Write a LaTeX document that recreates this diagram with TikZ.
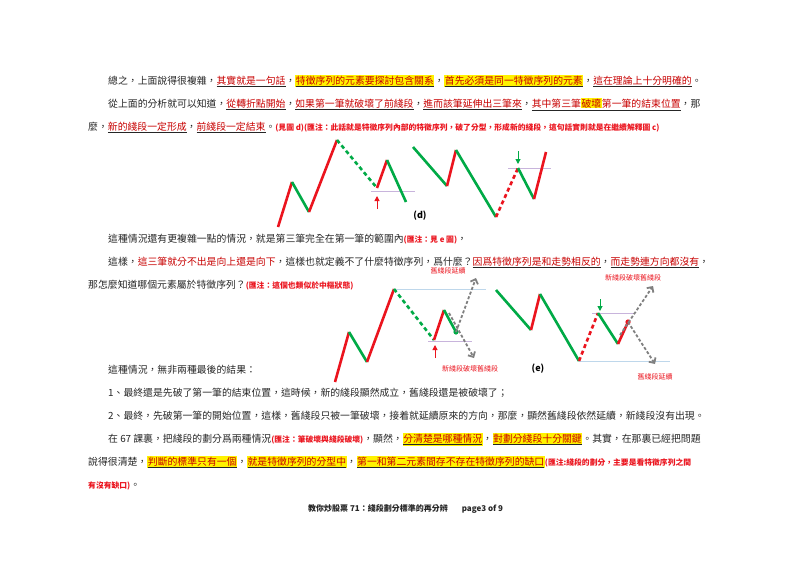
\documentclass[tikz,border=0pt]{standalone}
\usepackage{fontspec}
\setmainfont{Noto Sans CJK TC}
\usetikzlibrary{arrows.meta}
\definecolor{ug}{RGB}{0,170,70}
\definecolor{ur}{RGB}{235,20,30}
\definecolor{ulr}{RGB}{200,0,0}
\definecolor{pl}{RGB}{200,180,220}
\definecolor{bl}{RGB}{190,215,235}
\newcommand{\myul}[1]{\underline{\textcolor{ulr}{#1}}}
\newcommand{\myhl}[1]{{\fboxsep=0.6pt\colorbox{yellow}{\underline{\textcolor{ulr}{#1}}}}}
\newcommand{\mynote}[1]{{\fontsize{7.8}{8}\selectfont\bfseries\textcolor{ur}{#1}}}
\begin{document}
\begin{tikzpicture}[x=1pt,y=-1pt,
 txt/.style={anchor=base west,inner sep=0,font=\fontsize{9.85}{10}\selectfont,text=black!85},
 lab/.style={inner sep=0,font=\fontsize{7}{8}\selectfont,text=ur},
 up/.style={ur,line width=2.6pt},
 dn/.style={ug,line width=2.6pt},
 upd/.style={up,dash pattern=on 4pt off 3pt},
 dnd/.style={dn,dash pattern=on 4pt off 3pt},
 gar/.style={gray,line width=1.8pt,dash pattern=on 3pt off 2pt,-{Straight Barb[length=4pt]}},
 hl1/.style={pl,line width=1pt},
 hl2/.style={bl,line width=1pt}]
\useasboundingbox (0,0) rectangle (800,566);
\fill[white] (0,0) rectangle (800,566);
% text
\node[txt] (t1) at (108,84) {總之，上面說得很複雜，\myul{其實就是一句話}，\myhl{特徵序列的元素要探討包含關系}，\myhl{首先必須是同一特徵序列的元素}，\myul{這在理論上十分明確的}。};
\node[txt] (t2) at (108,107) {從上面的分析就可以知道，\myul{從轉折點開始}，\myul{如果第一筆就破壞了前綫段}，\myul{進而該筆延伸出三筆來}，\myul{其中第三筆{\fboxsep=0.6pt\colorbox{yellow}{破壞}}第一筆的結束位置}，那};
\node[txt] (t3) at (88,130) {麼，\myul{新的綫段一定形成}，\myul{前綫段一定結束}。\mynote{(見圖 d)(匯注：此話就是特徵序列內部的特徵序列，破了分型，形成新的綫段，這句話實則就是在繼續解釋圖 c)}};
\node[txt] (t4) at (108,242) {這種情況還有更複雜一點的情況，就是第三筆完全在第一筆的範圍內\mynote{(匯注：見 e 圖)}，};
\node[txt] (t5) at (108,265) {這樣，\textcolor{ulr}{這三筆就分不出是向上還是向下}，這樣也就定義不了什麼特徵序列，爲什麼？\myul{因爲特徵序列是和走勢相反的}，\myul{而走勢連方向都沒有}，};
\node[txt] (t6) at (88,288) {那怎麼知道哪個元素屬於特徵序列？\mynote{(匯注：這個也類似於中樞狀態)}};
\node[txt] (t7) at (108,373) {這種情況，無非兩種最後的結果：};
\node[txt] (t8) at (108,396) {1、最終還是先破了第一筆的結束位置，這時候，新的綫段顯然成立，舊綫段還是被破壞了；};
\node[txt] (t9) at (108,419) {2、最終，先破第一筆的開始位置，這樣，舊綫段只被一筆破壞，接着就延續原來的方向，那麼，顯然舊綫段依然延續，新綫段沒有出現。};
\node[txt] (t10) at (108,442) {在 67 課裏，把綫段的劃分爲兩種情況\mynote{(匯注：筆破壞與綫段破壞)}，顯然，\myhl{分清楚是哪種情況}，\myhl{對劃分綫段十分關鍵}。其實，在那裏已經把問題};
\node[txt] (t11) at (88,465) {說得很清楚，\myhl{判斷的標準只有一個}，\myhl{就是特徵序列的分型中}，\myhl{第一和第二元素間存不存在特徵序列的缺口}\mynote{(匯注:綫段的劃分，主要是看特徵序列之間}};
\node[txt] (t12) at (88,488) {\mynote{有沒有缺口)}。};
\node[txt,font=\fontsize{8}{9}\selectfont\bfseries] (ft) at (308,511) {教你炒股票 71：綫段劃分標準的再分辨\hspace{14pt}page3 of 9};
% chart d left
\coordinate (a1) at (278,227); \coordinate (a2) at (292,182); \coordinate (a3) at (309,212);
\coordinate (a4) at (337,140); \coordinate (a5) at (377,188); \coordinate (a6) at (387,160); \coordinate (a7) at (406,202);
\draw[hl1] (371,191) -- (415,191);
\draw[up] (a1)--(a2); \draw[dn] (a2)--(a3); \draw[up] (a3)--(a4); \draw[dnd] (a4)--(a5); \draw[up] (a5)--(a6); \draw[dn] (a6)--(a7);
\draw[ur,line width=1pt,-{Triangle[length=5pt,width=5pt]}] (377,209) -- (377,196);
% chart d right
\coordinate (b1) at (413,147); \coordinate (b2) at (447,186); \coordinate (b3) at (456,150); \coordinate (b4) at (496,217);
\coordinate (b5) at (518,168); \coordinate (b6) at (534,199); \coordinate (b7) at (546,152);
\draw[hl1] (508,168) -- (551,168);
\draw[dn] (b1)--(b2); \draw[up] (b2)--(b3); \draw[dn] (b3)--(b4); \draw[upd] (b4)--(b5); \draw[dn] (b5)--(b6); \draw[up] (b6)--(b7);
\draw[ug,line width=1pt,-{Triangle[length=5pt,width=5pt]}] (518,151) -- (518,164);
\node[font=\fontsize{9}{10}\selectfont\bfseries] (dl) at (420,216) {(d)};
% chart e left
\coordinate (c0) at (335,382); \coordinate (c1) at (349,332); \coordinate (c2) at (367,362); \coordinate (c3) at (394,289);
\coordinate (c4) at (434,340); \coordinate (c5) at (444,310); \coordinate (c6) at (456,332);
\draw[hl2] (394,289) -- (486,289);
\draw[hl1] (428,341) -- (472,341);
\draw[up] (c0)--(c1); \draw[dn] (c1)--(c2); \draw[up] (c2)--(c3); \draw[dnd] (c3)--(c4); \draw[up] (c4)--(c5); \draw[dn] (c5)--(c6);
\fill[ug] (c6) circle (2.6pt);
\draw[ur,line width=1pt,-{Triangle[length=5pt,width=5pt]}] (435,358) -- (435,345);
\coordinate (c7) at (476,278); \coordinate (c8) at (474,358);
\draw[gar] (c6) -- (c7);
\draw[gar] (449,313) -- (c8);
\node[lab] (l1) at (448,271) {舊綫段延續};
\node[lab] (l2) at (470,369) {新綫段破壞舊綫段};
% chart e right
\coordinate (d1) at (496,290); \coordinate (d2) at (531,330); \coordinate (d3) at (540,294); \coordinate (d4) at (579,361);
\coordinate (d5) at (598,313); \coordinate (d6) at (618,344); \coordinate (d7) at (628,322);
\draw[hl2] (579,361) -- (670,361);
\draw[hl1] (592,313) -- (635,313);
\draw[dn] (d1)--(d2); \draw[up] (d2)--(d3); \draw[dn] (d3)--(d4); \draw[upd] (d4)--(d5); \draw[dn] (d5)--(d6); \draw[up] (d6)--(d7);
\fill[ur] (d7) circle (2.6pt);
\draw[ug,line width=1pt,-{Triangle[length=5pt,width=5pt]}] (600,299) -- (600,311);
\coordinate (d8) at (653,286); \coordinate (d9) at (655,364);
\draw[gar] (620,335) -- (d8);
\draw[gar] (d7) -- (d9);
\node[lab] (l3) at (633,278) {新綫段破壞舊綫段};
\node[lab] (l4) at (655,377) {舊綫段延續};
\node[font=\fontsize{9}{10}\selectfont\bfseries] (el) at (538,369) {(e)};
\end{tikzpicture}
\end{document}
